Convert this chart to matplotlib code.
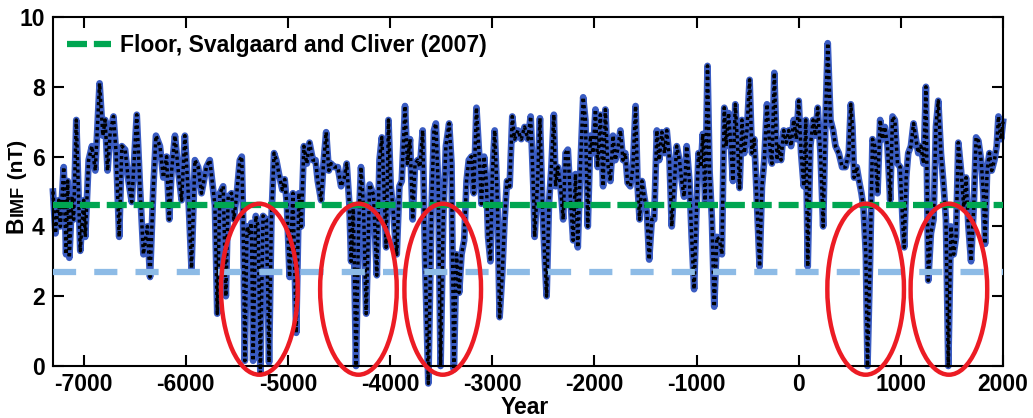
import matplotlib.pyplot as plt
from matplotlib.patches import Ellipse

# reconstructed B_IMF (nT) at its turning points
years = [
    -7300, -7276, -7244, -7228, -7195, -7172, -7156, -7140, -7114, -7098,
    -7072, -7033, -7000, -6984, -6951, -6919, -6886, -6844, -6812, -6789,
    -6766, -6740, -6708, -6682, -6652, -6626, -6594, -6561, -6529, -6480,
    -6448, -6415, -6376, -6350, -6318, -6292, -6253, -6220, -6188, -6162,
    -6139, -6106, -6074, -6041, -6009, -5976, -5944, -5911, -5879, -5846,
    -5798, -5765, -5715, -5692, -5666, -5634, -5608, -5585, -5552, -5530,
    -5504, -5471, -5452, -5439, -5422, -5400, -5380, -5358, -5341, -5315,
    -5292, -5270, -5244, -5211, -5185, -5162, -5136, -5114, -5081, -5055,
    -5032, -5010, -4984, -4951, -4919, -4893, -4870, -4844, -4815, -4789,
    -4756, -4730, -4708, -4675, -4652, -4626, -4600, -4578, -4545, -4512,
    -4480, -4448, -4425, -4399, -4382, -4360, -4334, -4308, -4285, -4260,
    -4234, -4200, -4162, -4146, -4130, -4104, -4081, -4058, -4039, -4016,
    -3994, -3968, -3951, -3935, -3909, -3886, -3854, -3831, -3805, -3779,
    -3756, -3730, -3708, -3681, -3659, -3626, -3594, -3571, -3552, -3529,
    -3506, -3480, -3454, -3422, -3399, -3376, -3350, -3324, -3301, -3275,
    -3252, -3230, -3204, -3181, -3155, -3129, -3106, -3080, -3058, -3041,
    -3018, -2999, -2976, -2950, -2928, -2902, -2879, -2856, -2830, -2804,
    -2781, -2749, -2716, -2684, -2651, -2624, -2598, -2585, -2559, -2533,
    -2510, -2488, -2468, -2445, -2423, -2397, -2380, -2358, -2332, -2306,
    -2283, -2260, -2234, -2208, -2185, -2163, -2137, -2110, -2088, -2065,
    -2039, -2013, -1990, -1968, -1942, -1915, -1893, -1870, -1844, -1818,
    -1795, -1772, -1746, -1720, -1698, -1675, -1649, -1623, -1597, -1577,
    -1558, -1535, -1512, -1486, -1464, -1438, -1415, -1389, -1366, -1340,
    -1314, -1292, -1265, -1243, -1220, -1194, -1168, -1145, -1122, -1097,
    -1070, -1048, -1024, -1004, -981, -958, -939, -916, -893, -873,
    -850, -827, -801, -775, -752, -729, -710, -687, -664, -644,
    -621, -598, -579, -556, -533, -507, -481, -458, -435, -409,
    -383, -360, -337, -311, -284, -262, -239, -213, -196, -173,
    -147, -121, -98, -75, -49, -23, 0, 23, 49, 69,
    88, 114, 141, 164, 186, 213, 239, 262, 284, 311,
    337, 360, 392, 425, 458, 490, 510, 526, 542, 568,
    591, 614, 634, 657, 673, 699, 722, 745, 771, 797,
    820, 843, 869, 895, 918, 941, 967, 993, 1016, 1033,
    1052, 1072, 1098, 1124, 1147, 1170, 1196, 1222, 1245, 1268,
    1294, 1320, 1343, 1366, 1392, 1419, 1441, 1464, 1490, 1517,
    1540, 1562, 1589, 1615, 1638, 1661, 1687, 1713, 1736, 1759,
    1785, 1808, 1824, 1844, 1867, 1889, 1916, 1938, 1955, 1981,
    2000,
]
bimf = [
    5.0, 3.8, 4.75, 4.0, 5.7, 3.2, 5.3, 3.1, 4.85, 4.2,
    7.05, 3.3, 4.75, 3.7, 5.9, 6.3, 5.6, 8.1, 6.6, 7.05,
    5.6, 6.7, 7.15, 6.1, 3.7, 6.3, 6.2, 5.3, 4.7, 7.2,
    5.1, 3.2, 4.0, 2.55, 5.1, 6.6, 6.3, 5.4, 6.0, 4.2,
    5.6, 6.6, 5.6, 4.75, 6.6, 4.95, 2.8, 5.9, 5.7, 4.95,
    5.7, 5.9, 4.6, 1.5, 4.95, 5.15, 2.0, 4.85, 4.95, 4.2,
    4.85, 5.9, 6.0, 4.2, 0.15, 4.0, 3.8, 4.1, 0.15, 4.3,
    4.0, -0.2, 4.3, 4.2, 0.1, 4.2, 6.1, 5.9, 5.4, 5.05,
    5.35, 4.6, 2.55, 4.95, 0.95, 4.95, 4.0, 6.3, 5.8, 6.4,
    5.9, 5.9, 5.3, 4.75, 5.8, 6.7, 5.6, 5.8, 5.7, 5.7,
    5.15, 5.4, 5.8, 4.65, 3.0, 4.6, 0.0, 4.0, 5.7, 4.5,
    1.5, 5.2, 4.9, 3.7, 2.6, 5.9, 6.55, 4.95, 3.4, 7.05,
    5.15, 4.4, 3.7, 3.2, 5.15, 5.3, 7.45, 5.8, 6.5, 4.2,
    5.8, 5.9, 5.7, 6.75, 3.2, -0.5, 4.55, 6.75, 6.95, 5.15,
    0.0, 4.2, 6.3, 6.95, 5.8, -0.1, 3.2, 2.1, 3.2, 3.6,
    5.3, 5.9, 6.0, 4.95, 7.4, 6.1, 4.65, 6.0, 5.3, 3.7,
    3.0, 5.5, 6.75, 4.75, 1.4, 2.65, 4.2, 5.3, 5.15, 7.15,
    6.5, 6.75, 6.5, 6.85, 6.5, 7.15, 5.15, 3.7, 5.15, 7.1,
    4.65, 3.2, 2.0, 4.65, 5.6, 7.2, 5.15, 5.7, 5.15, 4.2,
    6.1, 6.2, 4.75, 3.6, 5.5, 3.4, 5.7, 7.7, 7.05, 4.0,
    6.6, 6.1, 7.35, 5.7, 7.2, 5.15, 7.35, 5.8, 5.3, 6.6,
    5.9, 6.2, 6.75, 5.9, 6.1, 5.25, 5.15, 5.7, 7.45, 5.15,
    4.2, 5.3, 4.85, 4.4, 3.05, 4.2, 4.2, 6.75, 5.9, 6.7,
    6.1, 6.75, 5.9, 4.0, 5.15, 6.3, 5.9, 5.3, 4.85, 6.3,
    5.3, 3.7, 2.2, 4.2, 6.1, 5.7, 6.65, 4.65, 8.6, 5.6,
    4.2, 1.7, 3.7, 3.6, 3.2, 7.4, 6.3, 7.25, 6.3, 5.3,
    7.5, 6.3, 5.1, 7.05, 6.1, 6.75, 8.2, 6.1, 6.5, 4.65,
    2.85, 5.15, 5.9, 7.5, 6.3, 5.8, 8.4, 5.9, 6.3, 5.9,
    6.75, 6.4, 6.75, 6.3, 7.05, 6.5, 7.6, 6.1, 5.15, 7.05,
    2.85, 6.3, 7.05, 6.6, 7.4, 6.1, 4.0, 7.05, 9.25, 7.05,
    6.75, 6.3, 6.1, 5.7, 5.7, 6.1, 7.5, 6.85, 5.4, 5.7,
    5.3, 4.95, 4.55, 3.2, 0.0, 3.05, 6.5, 6.3, 4.95, 7.05,
    6.5, 6.85, 6.3, 4.75, 7.15, 7.05, 5.8, 5.7, 4.2, 3.4,
    5.4, 6.1, 6.3, 6.95, 6.5, 6.1, 6.3, 5.8, 8.0, 2.45,
    3.8, 4.2, 6.85, 7.6, 6.1, 5.15, 4.2, 0.0, 4.0, 3.2,
    3.7, 6.4, 5.6, 4.55, 5.4, 4.0, 3.0, 4.55, 6.55, 6.45,
    5.9, 4.95, 3.5, 5.6, 6.1, 5.6, 5.9, 6.3, 7.15, 6.5,
    7.0,
]

floor_sc = 4.6      # Svalgaard and Cliver (2007) floor
floor_low = 2.7
circled_years = [-5280, -4310, -3485, 655, 1470]
circle_mid = 2.2
x_ticks = [-7000, -6000, -5000, -4000, -3000, -2000, -1000, 0, 1000, 2000]
y_ticks = [0, 2, 4, 6, 8, 10]

plt.rcParams['font.family'] = ['Liberation Sans', 'DejaVu Sans']
plt.rcParams['font.weight'] = 'bold'
plt.rcParams['axes.unicode_minus'] = False

fig = plt.figure(figsize=(10.33, 4.18), dpi=100)
ax = fig.add_axes([0.0513, 0.1244, 0.9197, 0.8349])

ax.plot(years, bimf, color='#3a5cc2', lw=4.8, clip_on=False, zorder=2)
ax.plot(years, bimf, color='black', lw=2.5, linestyle=(0, (0.9, 0.9)),
        clip_on=False, zorder=3)

green = ax.axhline(floor_sc, color='#00a651', lw=4.5, dashes=(3.2, 1.1), zorder=4,
                   label='Floor, Svalgaard and Cliver (2007)')
ax.axhline(floor_low, color='#8dbbe6', lw=4.5, dashes=(3.7, 2.9), zorder=4)

for yr in circled_years:
    ax.add_patch(Ellipse((yr, circle_mid), 750, 4.9, fill=False, edgecolor='#ec1c24',
                         lw=3.2, zorder=5, clip_on=False))

ax.set_xlim(-7300, 2000)
ax.set_ylim(0, 10)
ax.set_xticks(x_ticks)
ax.set_xticklabels([str(t) for t in x_ticks])
ax.set_yticks(y_ticks)
ax.set_yticklabels([str(t) for t in y_ticks])
ax.tick_params(direction='in', length=8, width=1.5, top=True, right=True,
               labelsize=16.5)
ax.tick_params(axis='x', pad=5)
ax.tick_params(axis='y', pad=6)
for s in ax.spines.values():
    s.set_linewidth(1.5)

ax.legend(handles=[green], loc='upper left', bbox_to_anchor=(0.0147, 0.95),
          frameon=False, fontsize=16.5, handlelength=1.9, handletextpad=0.4,
          borderpad=0, borderaxespad=0)

# y label: B with smaller IMF, then (nT)
renderer = fig.canvas.get_renderer()
x0, y0 = 0.022, 0.4426
for txt, size in [('B', 16.5), ('IMF', 13), (' (nT)', 15)]:
    t = fig.text(x0, y0, txt, rotation=90, rotation_mode='anchor', ha='left',
                 va='baseline', fontsize=size, fontweight='bold')
    y0 += t.get_window_extent(renderer).height / fig.bbox.height

fig.text(0.508, 0.026, 'Year', ha='center', va='center', fontsize=16.5, fontweight='bold')

fig.savefig('out.png', dpi=100)
